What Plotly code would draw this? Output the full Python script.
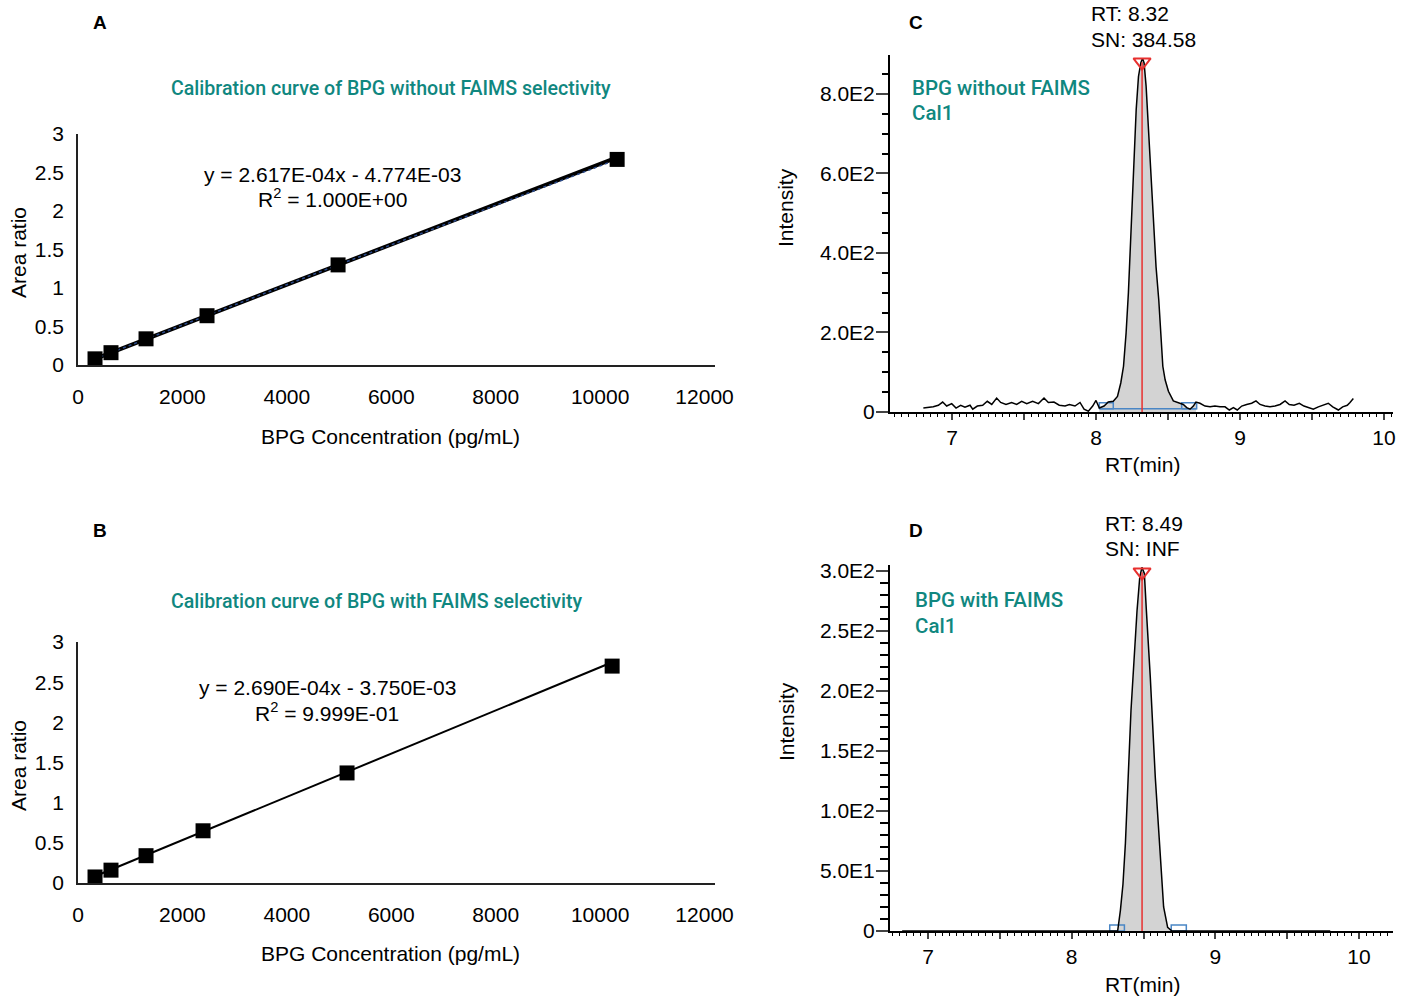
import plotly.graph_objects as go

W, H = 1408, 1001
FONT = "Liberation Sans, Arial, sans-serif"
TFONT = "Roboto, Liberation Sans, sans-serif"
TEAL = "#10877f"
BLUE = "#4a86c5"
RED = "#e8302f"

# ---------------- Data ----------------
# Panel A: calibration without FAIMS
a_conc = [326, 632, 1303, 2471, 4981, 10326]
a_ratio = [0.08, 0.16, 0.34, 0.64, 1.30, 2.67]
a_slope, a_intercept = 2.617e-04, -4.774e-03
a_eq = ["y = 2.617E-04x - 4.774E-03", "R<sup>2</sup> = 1.000E+00"]

# Panel B: calibration with FAIMS
b_conc = [326, 632, 1303, 2395, 5153, 10230]
b_ratio = [0.075, 0.16, 0.34, 0.65, 1.37, 2.70]
b_slope, b_intercept = 2.690e-04, -3.750e-03
b_eq = ["y = 2.690E-04x - 3.750E-03", "R<sup>2</sup> = 9.999E-01"]

cal_xticks = [0, 2000, 4000, 6000, 8000, 10000, 12000]
cal_xticktext = ["0", "2000", "4000", "6000", "8000", "10000", "12000"]
cal_yticks = [0, 0.5, 1, 1.5, 2, 2.5, 3]
cal_yticktext = ["0", "0.5", "1", "1.5", "2", "2.5", "3"]

# Panel C: chromatogram without FAIMS
c_rt = [6.801, 6.870, 6.905, 6.935, 6.963, 6.998, 7.028, 7.060, 7.090, 7.125,
        7.144, 7.176, 7.213, 7.245, 7.276, 7.310, 7.338, 7.375, 7.414, 7.449,
        7.484, 7.519, 7.560, 7.600, 7.639, 7.669, 7.708, 7.745, 7.785, 7.815,
        7.854, 7.889, 7.917, 7.947, 7.977, 8.000, 8.023, 8.056, 8.085, 8.120,
        8.149, 8.172, 8.191, 8.209, 8.225, 8.242, 8.260, 8.279, 8.295, 8.311,
        8.323, 8.334, 8.348, 8.364, 8.380, 8.399, 8.417, 8.436, 8.450, 8.464,
        8.480, 8.503, 8.537, 8.572, 8.606, 8.630, 8.653, 8.676, 8.694, 8.722,
        8.757, 8.792, 8.826, 8.861, 8.896, 8.926, 8.954, 8.981, 9.012, 9.046,
        9.081, 9.111, 9.139, 9.174, 9.208, 9.243, 9.278, 9.313, 9.342, 9.375,
        9.412, 9.444, 9.474, 9.509, 9.544, 9.578, 9.613, 9.644, 9.683, 9.713,
        9.745, 9.764, 9.787]
c_int = [10, 13, 17, 25, 15, 21, 10, 17, 12, 17,
         7, 15, 17, 27, 19, 35, 24, 19, 24, 19,
         27, 21, 27, 21, 35, 24, 25, 17, 15, 19,
         15, 24, 7, 2, 15, 29, 10, 15, 25, 27,
         39, 73, 115, 199, 300, 450, 618, 760, 844, 878,
         890, 878, 819, 718, 618, 491, 365, 281, 197, 115,
         81, 52, 28, 24, 19, 11, 7, 15, 25, 22,
         15, 13, 15, 13, 13, 5, 11, 5, 15, 19,
         22, 28, 19, 15, 13, 15, 19, 28, 19, 17,
         22, 15, 11, 7, 13, 17, 22, 13, 5, 13,
         17, 24, 34]
c_peak_rt, c_peak_apex = 8.32, 880
c_peak_start, c_peak_end = 8.023, 8.699
c_box_left = [8.023, 8.120]
c_box_right = [8.595, 8.699]
c_box_int = [8, 23]
c_baseline_int = 8
c_label = ["RT: 8.32", "SN: 384.58"]
c_name = ["BPG without FAIMS", "Cal1"]
c_yticks = [0, 200, 400, 600, 800]
c_yticktext = ["0", "2.0E2", "4.0E2", "6.0E2", "8.0E2"]

# Panel D: chromatogram with FAIMS
d_rt = [6.82, 8.320, 8.339, 8.357, 8.374, 8.413, 8.455, 8.474, 8.489, 8.506,
        8.520, 8.547, 8.582, 8.610, 8.640, 8.668, 8.698, 9.80]
d_int = [0, 0, 17, 39, 73, 184, 267, 295, 303, 298,
         267, 212, 128, 73, 20, 3, 0, 0]
d_peak_rt, d_peak_apex = 8.49, 299
d_peak_start, d_peak_end = 8.320, 8.698
d_box_left = [8.265, 8.367]
d_box_right = [8.693, 8.798]
d_box_int = [0, 5]
d_label = ["RT: 8.49", "SN: INF"]
d_name = ["BPG with FAIMS", "Cal1"]
d_yticks = [0, 50, 100, 150, 200, 250, 300]
d_yticktext = ["0", "5.0E1", "1.0E2", "1.5E2", "2.0E2", "2.5E2", "3.0E2"]


def px(x):
    return x / W


def py(y):
    return 1 - y / H


fig = go.Figure()

# ---------- calibration panels ----------
for (conc, ratio, slope, icpt, xa, ya, thick) in [
    (a_conc, a_ratio, a_slope, a_intercept, "x", "y", True),
    (b_conc, b_ratio, b_slope, b_intercept, "x2", "y2", False),
]:
    xs = [min(conc), max(conc)]
    ys = [slope * v + icpt for v in xs]
    fig.add_trace(go.Scatter(x=xs, y=ys, mode="lines", xaxis=xa, yaxis=ya,
                             line=dict(color="black", width=4 if thick else 2),
                             showlegend=False, hoverinfo="skip"))
    if thick:
        fig.add_trace(go.Scatter(x=conc, y=ratio, mode="lines", xaxis=xa, yaxis=ya,
                                 line=dict(color="#2b4a8a", width=1.5, dash="dot"),
                                 showlegend=False, hoverinfo="skip"))
    fig.add_trace(go.Scatter(x=conc, y=ratio, mode="markers", xaxis=xa, yaxis=ya,
                             marker=dict(symbol="square", size=15, color="black"),
                             showlegend=False))


# ---------- chromatogram panels ----------
def chrom(rt, inten, start, end, box_l, box_r, box_y, apex_rt, apex_int, xa, ya, baseline=None):
    seg = [(r, v) for r, v in zip(rt, inten) if start <= r <= end]
    fig.add_trace(go.Scatter(x=[s[0] for s in seg], y=[s[1] for s in seg], mode="lines",
                             fill="tozeroy", fillcolor="#d3d3d3",
                             line=dict(width=0, color="rgba(0,0,0,0)"),
                             xaxis=xa, yaxis=ya, showlegend=False, hoverinfo="skip"))
    for bx in (box_l, box_r):
        fig.add_trace(go.Scatter(x=[bx[0], bx[1], bx[1], bx[0], bx[0]],
                                 y=[box_y[0], box_y[0], box_y[1], box_y[1], box_y[0]],
                                 mode="lines", line=dict(color=BLUE, width=1.5),
                                 xaxis=xa, yaxis=ya, showlegend=False, hoverinfo="skip"))
    if baseline is not None:
        fig.add_trace(go.Scatter(x=[box_l[0], box_r[1]], y=[baseline, baseline],
                                 mode="lines", line=dict(color=BLUE, width=1.5),
                                 xaxis=xa, yaxis=ya, showlegend=False, hoverinfo="skip"))
    fig.add_trace(go.Scatter(x=rt, y=inten, mode="lines",
                             line=dict(color="black", width=1.5),
                             xaxis=xa, yaxis=ya, showlegend=False))
    fig.add_trace(go.Scatter(x=[apex_rt, apex_rt], y=[0, apex_int], mode="lines",
                             line=dict(color=RED, width=1.5),
                             xaxis=xa, yaxis=ya, showlegend=False, hoverinfo="skip"))
    fig.add_trace(go.Scatter(x=[apex_rt], y=[apex_int], mode="markers",
                             marker=dict(symbol="triangle-down-open", size=15,
                                         color=RED, line=dict(width=2, color=RED)),
                             xaxis=xa, yaxis=ya, showlegend=False, hoverinfo="skip"))


chrom(c_rt, c_int, c_peak_start, c_peak_end, c_box_left, c_box_right, c_box_int,
      c_peak_rt, c_peak_apex, "x3", "y3", baseline=c_baseline_int)
chrom(d_rt, d_int, d_peak_start, d_peak_end, d_box_left, d_box_right, d_box_int,
      d_peak_rt, d_peak_apex, "x4", "y4")

tickfont = dict(family=FONT, size=21, color="black")

cal_x = dict(range=[0, 12200], tickvals=cal_xticks, ticktext=cal_xticktext, ticks="",
             showgrid=False, zeroline=False, automargin=False,
             showline=True, linecolor="#222", linewidth=1.5, tickfont=tickfont,
             ticklabelstandoff=12, fixedrange=True)
cal_y = dict(range=[0, 3], tickvals=cal_yticks, ticktext=cal_yticktext, ticks="",
             showgrid=False, zeroline=False, showline=True, linecolor="#222", automargin=False,
             linewidth=1.5, tickfont=tickfont, ticklabelstandoff=8, fixedrange=True)

fig.update_layout(
    xaxis=dict(cal_x, domain=[px(78), px(715)], anchor="y"),
    yaxis=dict(cal_y, domain=[py(365), py(134)], anchor="x"),
    xaxis2=dict(cal_x, domain=[px(78), px(715)], anchor="y2"),
    yaxis2=dict(cal_y, domain=[py(883), py(642)], anchor="x2"),
)

rt_x = dict(tickmode="linear", tick0=7, dtick=0.5, ticklabelstep=2, tickformat=".0f",
            ticks="outside", ticklen=6, tickwidth=1.5,
            minor=dict(tickmode="linear", tick0=7, dtick=0.05, ticks="outside", ticklen=3,
                       tickwidth=1, tickcolor="black"),
            showgrid=False, zeroline=False, showline=True, linecolor="black", linewidth=2,
            tickfont=tickfont, ticklabelstandoff=0, fixedrange=True, automargin=False)

fig.update_layout(
    xaxis3=dict(rt_x, range=[6.5694, 10.0625], domain=[px(890), px(1393)], anchor="y3"),
    yaxis3=dict(range=[0, 898], domain=[py(412), py(55)], anchor="x3", automargin=False,
                tickvals=c_yticks, ticktext=c_yticktext, ticks="outside", ticklen=12, tickwidth=1.5,
                minor=dict(tickmode="linear", tick0=0, dtick=50, ticks="outside", ticklen=6,
                           tickwidth=1.5, tickcolor="black"),
                showgrid=False, zeroline=False, showline=True, linecolor="black", linewidth=2,
                tickfont=tickfont, ticklabelstandoff=-3, fixedrange=True),
    xaxis4=dict(rt_x, range=[6.7355, 10.2366], domain=[px(890), px(1393)], anchor="y4"),
    yaxis4=dict(range=[0, 305], domain=[py(931), py(565)], anchor="x4", automargin=False,
                tickvals=d_yticks, ticktext=d_yticktext, ticks="outside", ticklen=12, tickwidth=1.5,
                minor=dict(tickmode="linear", tick0=0, dtick=10, ticks="outside", ticklen=8,
                           tickwidth=1.5, tickcolor="black"),
                showgrid=False, zeroline=False, showline=True, linecolor="black", linewidth=2,
                tickfont=tickfont, ticklabelstandoff=-3, fixedrange=True),
)

ann = []


def add_text(text, x, y, size=21, color="black", xanchor="center", bold=False, angle=0,
             family=FONT, weight="normal"):
    ann.append(dict(text=f"<b>{text}</b>" if bold else text, x=px(x), y=py(y),
                    xref="paper", yref="paper", showarrow=False, xanchor=xanchor,
                    yanchor="middle", textangle=angle,
                    font=dict(family=family, size=size, color=color, weight=weight)))


# panel letters
add_text("A", 100, 22, size=19, bold=True)
add_text("B", 100, 530, size=19, bold=True)
add_text("C", 916, 22, size=19, bold=True)
add_text("D", 916, 530, size=19, bold=True)

# calibration titles and labels
title_kw = dict(size=19.6, color=TEAL, xanchor="left", family=TFONT, weight=500)
name_kw = dict(size=20.5, color=TEAL, xanchor="left", family=TFONT, weight=500)
add_text("Calibration curve of BPG without FAIMS selectivity", 169, 88, **title_kw)
add_text("Calibration curve of BPG with FAIMS selectivity", 169, 601, **title_kw)
add_text(a_eq[0], 332, 174)
add_text(a_eq[1], 332, 198)
add_text(b_eq[0], 327, 687)
add_text(b_eq[1], 327, 712)
for yy in (253, 766):
    add_text("Area ratio", 18, yy, angle=-90)
for yy in (436, 953):
    add_text("BPG Concentration (pg/mL)", 390, yy)

# chromatogram labels
add_text(c_label[0], 1089, 14, xanchor="left")
add_text(c_label[1], 1089, 39, xanchor="left")
add_text(d_label[0], 1103, 523, xanchor="left")
add_text(d_label[1], 1103, 548, xanchor="left")
add_text(c_name[0], 910, 88, **name_kw)
add_text(c_name[1], 910, 113, **name_kw)
add_text(d_name[0], 913, 600, **name_kw)
add_text(d_name[1], 913, 626, **name_kw)
add_text("Intensity", 785, 208, angle=-90)
add_text("Intensity", 786, 722, angle=-90)
add_text("RT(min)", 1142, 464)
add_text("RT(min)", 1142, 984)

fig.update_layout(
    annotations=ann,
    width=W, height=H, autosize=False,
    margin=dict(l=0, r=0, t=0, b=0),
    paper_bgcolor="white", plot_bgcolor="white",
    showlegend=False,
    font=dict(family=FONT, color="black"),
)

fig.write_html("out.html", config={"displayModeBar": False},
               post_script="document.body.style.margin='0';document.body.style.overflow='hidden';")
